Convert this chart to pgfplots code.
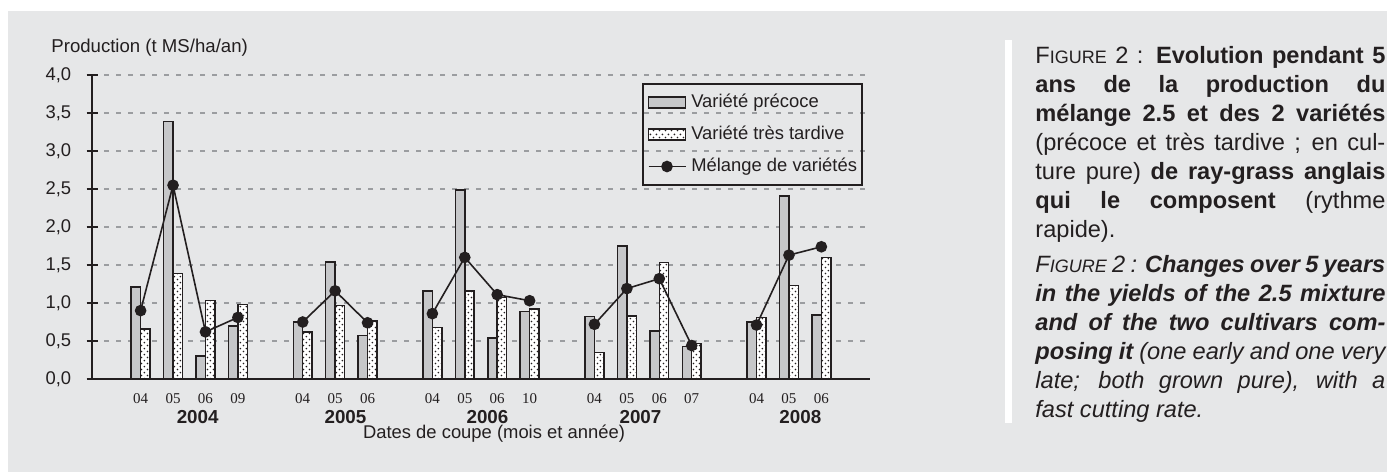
\documentclass[border=0pt]{standalone}
\usepackage{fontspec}
\setmainfont{Liberation Sans}
\newfontfamily\monthfont{Liberation Serif}
\usepackage{pgfplots}
\pgfplotsset{compat=1.18}
\usepackage{pgfplotstable}
\usetikzlibrary{patterns.meta}

\definecolor{bgGray}{RGB}{230,231,232}
\definecolor{barGray}{RGB}{198,199,201}
\definecolor{ink}{RGB}{35,31,32}
\definecolor{gridGray}{RGB}{155,157,160}

\pgfdeclarepattern{
  name=mydots,
  type=uncolored,
  bottom left={\pgfpointorigin},
  top right={\pgfpoint{3.2pt}{3.2pt}},
  tile size={\pgfpoint{3.2pt}{3.2pt}},
  code={
    \pgfpathcircle{\pgfpoint{0.8pt}{0.8pt}}{0.5pt}
    \pgfpathcircle{\pgfpoint{2.4pt}{2.4pt}}{0.5pt}
    \pgfusepath{fill}
  }
}

\pgfplotsset{
  barlegend/.style={legend image code/.code={\draw[##1] (0pt,-2.7pt) rectangle (18.5pt,2.7pt);}},
  linelegend/.style={legend image code/.code={\draw[mark repeat=2, mark phase=2, ##1] plot coordinates {(0pt,0pt) (9.25pt,0pt) (18.5pt,0pt)};}},
}

\pgfplotstableread{
x early late
0 1.21 0.66
1 3.39 1.39
2 0.30 1.03
3 0.70 0.98
5 0.75 0.62
6 1.54 0.97
7 0.57 0.76
9 1.16 0.68
10 2.49 1.16
11 0.54 1.07
12 0.89 0.92
14 0.82 0.35
15 1.75 0.83
16 0.63 1.53
17 0.43 0.47
19 0.75 0.81
20 2.41 1.23
21 0.84 1.60
}\bars

\pgfplotstableread{
x mix
0 0.90
1 2.55
2 0.62
3 0.81
4 nan
5 0.75
6 1.16
7 0.74
8 nan
9 0.86
10 1.60
11 1.11
12 1.03
13 nan
14 0.72
15 1.19
16 1.32
17 0.44
18 nan
19 0.71
20 1.63
21 1.74
}\mix

\begin{document}
\begin{tikzpicture}
\useasboundingbox (0,0) rectangle (693.5pt,236pt);
\fill[white] (0,0) rectangle (693.5pt,236pt);
\fill[bgGray] (4pt,0) rectangle (693.5pt,230.5pt);
\fill[white] (502.5pt,24.5pt) rectangle (506pt,216pt);

\begin{axis}[
  at={(46pt,46.5pt)}, anchor=south west,
  width=389pt, height=152pt, scale only axis,
  xmin=-1.5, xmax=22.5, ymin=0, ymax=4,
  axis x line*=bottom, axis y line*=left,
  axis line style={draw=ink, line width=1pt, -},
  ytick={0,0.5,1,1.5,2,2.5,3,3.5,4},
  y tick style={draw=ink, line width=1pt},
  major tick length=5.5pt, tick align=center,
  xtick={0,1,2,3,5,6,7,9,10,11,12,14,15,16,17,19,20,21},
  xticklabels={04,05,06,09,04,05,06,04,05,06,10,04,05,06,07,04,05,06},
  x tick style={draw=none},
  ymajorgrids,
  grid style={draw=gridGray, line width=0.8pt, dash pattern=on 2.5pt off 3.5pt},
  /pgf/number format/use comma,
  /pgf/number format/fixed,
  /pgf/number format/fixed zerofill,
  /pgf/number format/precision=1,
  /pgf/number format/assume math mode=true,
  yticklabel style={font=\fontsize{9.2}{11}\selectfont, text=ink, inner sep=0pt, anchor=east, xshift=-7.5pt},
  xticklabel style={font=\monthfont\fontsize{7.5}{8}\selectfont, text=ink, inner sep=0pt, anchor=center, yshift=-7pt},
  clip=false,
  unbounded coords=jump,
  legend cell align=left,
  legend style={at={(1,1)}, anchor=north east, xshift=-3.5pt, yshift=-4pt,
    draw=ink, line width=1pt, fill=none,
    font=\fontsize{9.2}{11}\selectfont, text=ink,
    inner xsep=2.5pt, inner ysep=5pt, row sep=7.5pt,
    nodes={inner sep=0pt, text height=6.6pt, text depth=1.9pt},
    /tikz/every odd column/.append style={column sep=2.5pt}},
]
\addplot[ybar, bar width=0.29, bar shift=-0.145, fill=barGray, draw=ink, line width=0.75pt, barlegend]
  table[x=x,y=early]{\bars};
\addplot[ybar, bar width=0.29, bar shift=0.145, fill=white, draw=ink, line width=0.75pt,
  postaction={pattern=mydots, pattern color=ink}, barlegend]
  table[x=x,y=late]{\bars};
\addplot[draw=ink, line width=0.8pt, mark=*, mark size=2.5pt, mark options={fill=ink, draw=ink, solid}, linelegend]
  table[x=x,y=mix]{\mix};
\legend{Variété précoce, Variété très tardive, Mélange de variétés}

\node[font=\bfseries\fontsize{9.4}{10}\selectfont, text=ink] at (axis cs:1.76,0) [yshift=-19pt] {2004};
\node[font=\bfseries\fontsize{9.4}{10}\selectfont, text=ink] at (axis cs:6.32,0) [yshift=-19pt] {2005};
\node[font=\bfseries\fontsize{9.4}{10}\selectfont, text=ink] at (axis cs:10.7,0) [yshift=-19pt] {2006};
\node[font=\bfseries\fontsize{9.4}{10}\selectfont, text=ink] at (axis cs:15.42,0) [yshift=-19pt] {2007};
\node[font=\bfseries\fontsize{9.4}{10}\selectfont, text=ink] at (axis cs:20.35,0) [yshift=-19pt] {2008};
\end{axis}

\node[anchor=west, inner sep=0pt, font=\fontsize{9.3}{11}\selectfont, text=ink] at (25.5pt,212pt) {Production (t MS/ha/an)};
\node[inner sep=0pt, font=\fontsize{9.2}{11}\selectfont, text=ink] at (247pt,19pt) {Dates de coupe (mois et année)};

\node[anchor=north west, inner sep=0pt, text width=175pt, align=justify, text=ink,
  font=\fontsize{11.8}{14.5}\selectfont] at (517.5pt,213pt) {%
\tolerance=9999 \hyphenpenalty=10000 \exhyphenpenalty=10000
F{\fontsize{9}{14.5}\selectfont IGURE} 2 : \textbf{Evolution pendant 5\linebreak ans de la production du\linebreak mélange 2.5 et des 2 variétés}\linebreak (précoce et très tardive ; en cul-\linebreak ture pure) \textbf{de ray-grass anglais\linebreak qui le composent} (rythme\linebreak rapide).\par\vspace{3pt}
{\itshape F{\fontsize{9}{14.5}\selectfont IGURE} 2 : \textbf{Changes over 5 years\linebreak in the yields of the 2.5 mixture\linebreak and of the two cultivars com-\linebreak posing it} (one early and one very\linebreak late; both grown pure), with a\linebreak fast cutting rate.\par}};
\end{tikzpicture}
\end{document}
